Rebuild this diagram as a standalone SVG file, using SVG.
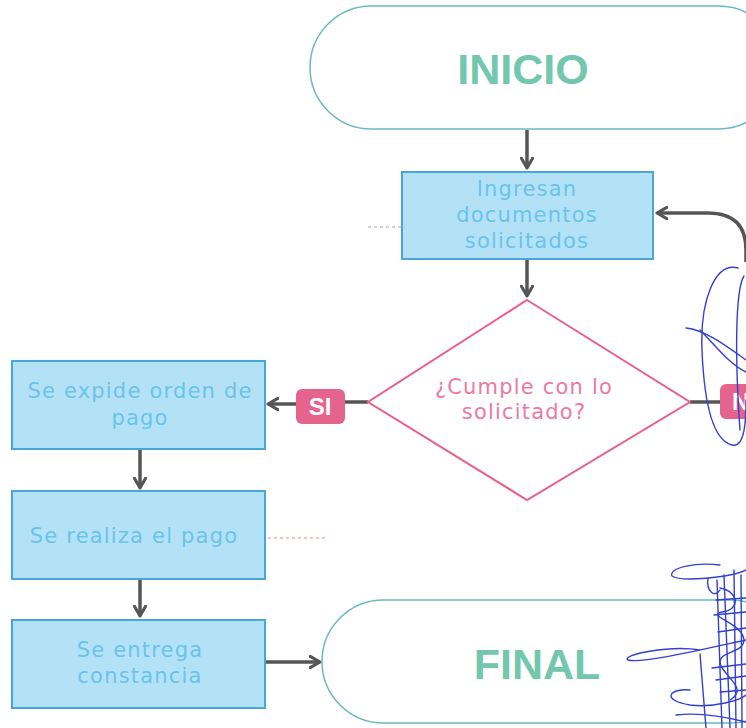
<svg xmlns="http://www.w3.org/2000/svg" width="746" height="728" viewBox="0 0 746 728">
  <defs>
    <marker id="arrow" viewBox="0 0 10 10" refX="8" refY="5" markerWidth="4" markerHeight="4" orient="auto-start-reverse">
      <path d="M1,1 L8,5 L1,9" fill="none" stroke="#555" stroke-width="2.2" stroke-linecap="round" stroke-linejoin="round"/>
    </marker>
    <style>
      .terminal { fill: #ffffff; stroke: #6ab9c2; stroke-width: 1.5; }
      .terminal-text { font-family: "Liberation Sans", Arial, sans-serif; font-weight: 700; font-size: 43px; fill: #72c7ad; text-anchor: middle; }
      .process { fill: #b3e2f7; stroke: #4aa6d6; stroke-width: 2; }
      .process-text { font-family: "DejaVu Sans", "Noto Sans", sans-serif; font-size: 21px; letter-spacing: 1.2px; fill: #6bc3ec; text-anchor: middle; }
      .decision { fill: #ffffff; stroke: #ea5f88; stroke-width: 2; }
      .decision-text { font-family: "DejaVu Sans", "Noto Sans", sans-serif; font-size: 21px; letter-spacing: 1.2px; fill: #ec7aa0; text-anchor: middle; }
      .tag { fill: #e4648d; }
      .tag-text { font-family: "Liberation Sans", Arial, sans-serif; font-weight: 700; font-size: 24px; fill: #ffffff; text-anchor: middle; }
      .edge { fill: none; stroke: #555; stroke-width: 3.5; }
      .guide { fill: none; stroke-width: 1; stroke-dasharray: 3 3; }
      .ink { fill: none; stroke: #3340d0; stroke-width: 1.4; stroke-linecap: round; stroke-linejoin: round; }
    </style>
  </defs>

  <!-- connectors -->
  <g id="connectors">
    <path class="edge" d="M527,130 L527,168" marker-end="url(#arrow)"/>
    <path class="edge" d="M527,259 L527,296" marker-end="url(#arrow)"/>
    <path class="edge" d="M368,402 L345,402"/>
    <path class="edge" d="M296,404 L268,404" marker-end="url(#arrow)"/>
    <path class="edge" d="M690,402 L720,402"/>
    <path class="edge" d="M746,262 L746,250 Q746,213 708,213 L657,213" marker-end="url(#arrow)"/>
    <path class="edge" d="M140,449 L140,488" marker-end="url(#arrow)"/>
    <path class="edge" d="M140,579 L140,616" marker-end="url(#arrow)"/>
    <path class="edge" d="M266,662 L320,662" marker-end="url(#arrow)"/>
  </g>

  <!-- faint guide lines -->
  <path class="guide" d="M368,227 L402,227" stroke="#9aa"/>
  <path class="guide" d="M250,538 L325,538" stroke="#e88"/>

  <g id="inicio">
    <rect class="terminal" x="310" y="6" width="470" height="123" rx="61.5"/>
    <text class="terminal-text" x="523" y="84">INICIO</text>
  </g>

  <g id="ingresan">
    <rect class="process" x="402" y="172" width="251" height="87"/>
    <text class="process-text" x="527" y="196">Ingresan</text>
    <text class="process-text" x="527" y="222">documentos</text>
    <text class="process-text" x="527" y="248">solicitados</text>
  </g>

  <g id="cumple">
    <polygon class="decision" points="527,300 690,402 527,500 368,402"/>
    <text class="decision-text" x="524" y="394">¿Cumple con lo</text>
    <text class="decision-text" x="524" y="419">solicitado?</text>
  </g>

  <g id="si">
    <rect class="tag" x="296" y="389" width="49" height="35" rx="6"/>
    <text class="tag-text" x="320" y="415">SI</text>
  </g>

  <g id="no">
    <rect class="tag" x="720" y="384" width="60" height="35" rx="6"/>
    <text class="tag-text" x="750" y="410">NO</text>
  </g>

  <g id="expide">
    <rect class="process" x="12" y="361" width="253" height="88"/>
    <text class="process-text" x="140" y="398">Se expide orden de</text>
    <text class="process-text" x="140" y="425">pago</text>
  </g>

  <g id="realiza">
    <rect class="process" x="12" y="491" width="253" height="88"/>
    <text class="process-text" x="134" y="543">Se realiza el pago</text>
  </g>

  <g id="entrega">
    <rect class="process" x="12" y="620" width="253" height="88"/>
    <text class="process-text" x="140" y="657">Se entrega</text>
    <text class="process-text" x="140" y="683">constancia</text>
  </g>

  <g id="final">
    <rect class="terminal" x="322" y="600" width="470" height="123" rx="61.5"/>
    <text class="terminal-text" x="537" y="679">FINAL</text>
  </g>

  <!-- pen marks over the right edge -->
  <g id="pen">
    <path class="ink" d="M738,268 C715,262 700,300 702,350 C704,400 712,440 732,445 C745,448 746,420 746,400"/>
    <path class="ink" d="M744,276 C735,290 735,360 740,430"/>
    <path class="ink" d="M686,328 C705,330 725,345 746,360"/>
    <path class="ink" d="M700,330 C715,345 730,365 746,372"/>
    <path class="ink" d="M720,565 C695,562 668,568 672,576 C680,582 730,578 746,570"/>
    <path class="ink" d="M708,578 C706,592 715,598 720,590"/>
    <path class="ink" d="M700,650 C670,645 620,655 628,660 C640,664 700,650 746,640"/>
    <path class="ink" d="M690,690 C670,688 660,700 690,705 C715,708 740,700 746,695"/>
    <path class="ink" d="M676,715 C700,712 730,718 746,722"/>
    <path class="ink" d="M717,580 L722,728 M724,575 L730,728 M734,570 L736,728 M741,575 L742,728"/>
    <path class="ink" d="M700,654 L706,728"/>
    <path class="ink" d="M716,600 L746,598 M714,615 L746,612 M718,632 L746,628 M712,668 L746,664 M716,680 L746,676 M720,692 L746,690"/>
    <path class="ink" d="M720,588 C740,592 740,610 722,612 C705,616 742,622 744,640 C744,655 712,650 722,668 C732,682 746,690 730,700"/>
  </g>
</svg>
